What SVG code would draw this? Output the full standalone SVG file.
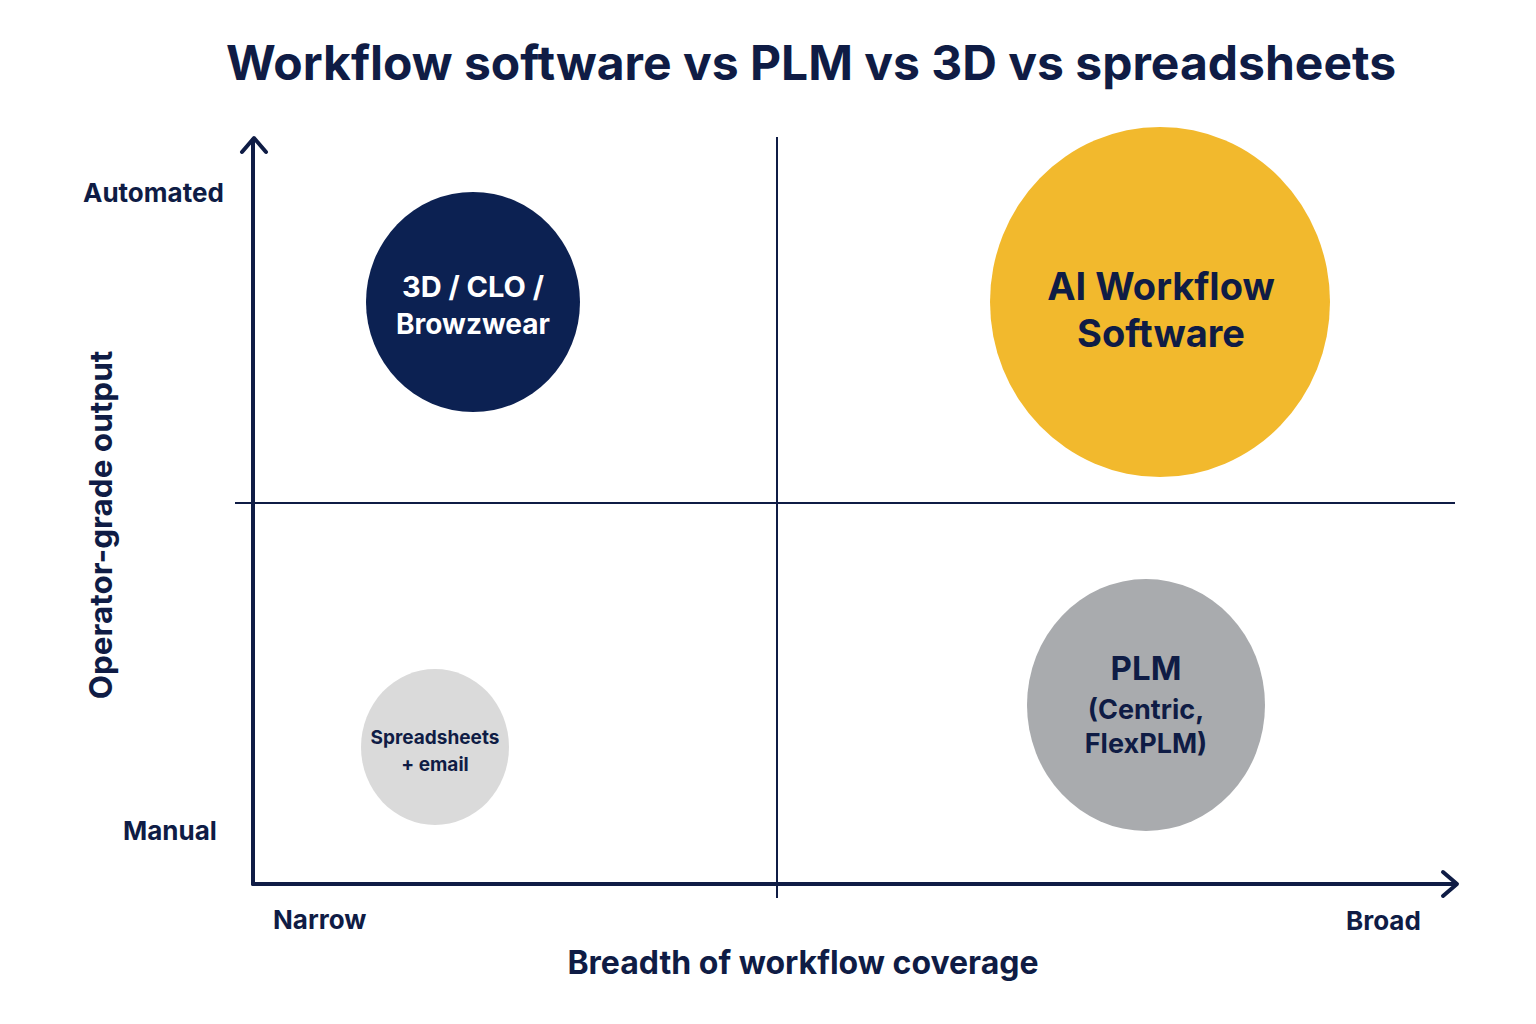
<svg xmlns="http://www.w3.org/2000/svg" width="1536" height="1024" viewBox="0 0 1536 1024">
<defs>
<style>
text{font-family:Inter,"Liberation Sans",Arial,sans-serif;font-weight:700;fill:#0f1c45;}
.axis{stroke:#0f1c45;stroke-width:4;fill:none;stroke-linecap:round;stroke-linejoin:round;}
.div{stroke:#0f1c45;stroke-width:2;fill:none;}
.lbl{font-size:26px;}
.mid{text-anchor:middle;}
.wt{fill:#ffffff;}
</style>
</defs>
<rect width="1536" height="1024" fill="#ffffff"/>
<text x="811" y="80" class="mid" font-size="48">Workflow software vs PLM vs 3D vs spreadsheets</text>
<g id="connectors">
<line class="div" x1="777" y1="137" x2="777" y2="898"/>
<line class="div" x1="235" y1="503" x2="1455" y2="503"/>
<line class="axis" x1="253" y1="884" x2="253" y2="140"/>
<polyline class="axis" points="242,152 254,138 266,152"/>
<line class="axis" x1="253" y1="884" x2="1455" y2="884"/>
<polyline class="axis" points="1443,872 1457,884 1443,896"/>
</g>
<g id="axis-labels">
<text x="83" y="202" class="lbl">Automated</text>
<text x="123" y="840" class="lbl">Manual</text>
<text x="273" y="929" class="lbl">Narrow</text>
<text x="1346" y="930" class="lbl">Broad</text>
<text x="803" y="974" class="mid" font-size="32">Breadth of workflow coverage</text>
<text transform="translate(112,525) rotate(-90)" class="mid" font-size="31.5">Operator-grade output</text>
</g>
<g id="node-3d">
<ellipse cx="473" cy="302" rx="107" ry="110" fill="#0c2152"/>
<text x="473" y="297" class="mid wt" font-size="29">3D / CLO /</text>
<text x="473" y="334" class="mid wt" font-size="28">Browzwear</text>
</g>
<g id="node-ai">
<ellipse cx="1160" cy="302" rx="170" ry="175" fill="#f2b92d"/>
<text x="1161" y="300" class="mid" font-size="38">AI Workflow</text>
<text x="1161" y="347" class="mid" font-size="38">Software</text>
</g>
<g id="node-plm">
<ellipse cx="1146" cy="705" rx="119" ry="126" fill="#a9abae"/>
<text x="1146" y="680" class="mid" font-size="33">PLM</text>
<text x="1146" y="719" class="mid" font-size="27">(Centric,</text>
<text x="1146" y="753" class="mid" font-size="27">FlexPLM)</text>
</g>
<g id="node-spreadsheets">
<ellipse cx="435" cy="747" rx="74" ry="78" fill="#dadada"/>
<text x="435" y="744" class="mid" font-size="19">Spreadsheets</text>
<text x="435" y="771" class="mid" font-size="19">+ email</text>
</g>
</svg>
